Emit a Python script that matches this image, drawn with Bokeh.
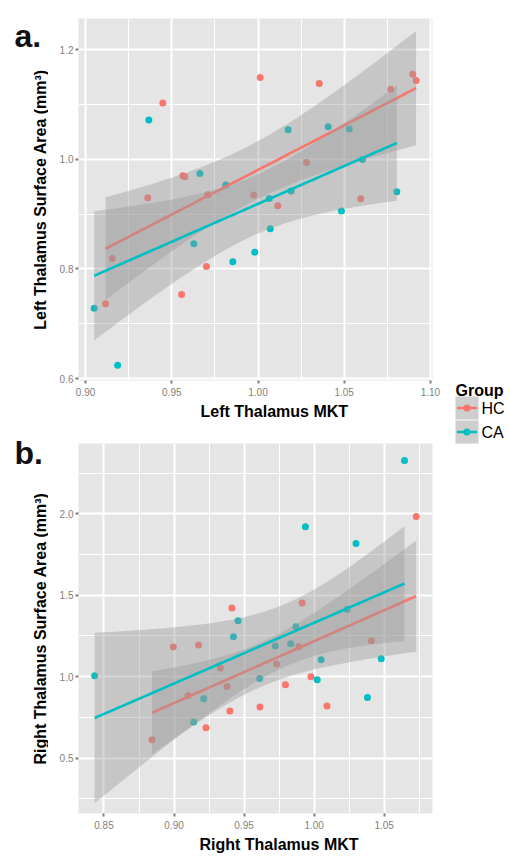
import numpy as np
from bokeh.plotting import figure
from bokeh.models import Range1d, FixedTicker, Title, NumeralTickFormatter
from bokeh.layouts import row, column
from bokeh.embed import file_html
from bokeh.resources import INLINE
from bokeh.core.properties import value

HC_COLOR = "#F8766D"
CA_COLOR = "#00BFC4"
FONT = "Liberation Sans"

groups = ["HC", "CA"]

# ---- Panel a: Left thalamus ----
left_hc_mkt = [0.9448, 1.0013, 0.9564, 0.9576, 0.9361, 0.9709, 0.9975, 1.0355, 1.0897,
               1.0917, 1.0770, 1.0281, 1.0596, 0.9155, 0.9701, 0.9116, 0.9557, 1.0115]
left_hc_area = [1.1026, 1.1489, 0.9699, 0.9680, 0.9297, 0.9352, 0.9346, 1.1379, 1.1549,
                1.1434, 1.1275, 0.9942, 0.9279, 0.8188, 0.8042, 0.7366, 0.7531, 0.9151]
left_ca_mkt = [0.9367, 0.9663, 0.9813, 1.0175, 1.0407, 1.0529, 1.0606, 1.0065, 1.0192,
               1.0805, 0.9628, 0.9854, 0.9981, 0.9050, 0.9186, 1.0071, 1.0484]
left_ca_area = [1.0716, 0.9741, 0.9531, 1.0539, 1.0594, 1.0552, 0.9996, 0.9284, 0.9419,
                0.9406, 0.8457, 0.8128, 0.8305, 0.7282, 0.6241, 0.8731, 0.9054]

# ---- Panel b: Right thalamus ----
right_hc_mkt = [0.9413, 1.0729, 0.9914, 1.0409, 0.8995, 0.9175, 0.9331, 0.9378, 0.9100,
                0.9228, 0.8843, 0.9399, 0.9613, 0.9891, 0.9732, 0.9977, 0.9795, 1.0092]
right_hc_area = [1.4221, 1.9834, 1.4529, 1.2211, 1.1824, 1.1947, 1.0533, 0.9402, 0.8849,
                 0.6863, 0.6125, 0.7890, 0.8142, 1.1842, 1.0779, 1.0000, 0.9506, 0.8197]
right_ca_mkt = [0.9457, 0.9424, 1.0645, 0.9938, 1.0299, 1.0236, 0.9870, 0.8433, 0.9611,
                0.9212, 0.9140, 0.9723, 0.9833, 1.0479, 1.0050, 1.0022, 1.0381]
right_ca_area = [1.3441, 1.2457, 2.3277, 1.9201, 1.8174, 1.4135, 1.3060, 1.0060, 0.9888,
                 0.8646, 0.7213, 1.1885, 1.2027, 1.1105, 1.1043, 0.9814, 0.8726]

left_x_ticks = [0.90, 0.95, 1.00, 1.05, 1.10]
left_x_minor = [0.925, 0.975, 1.025, 1.075]
left_y_ticks = [0.6, 0.8, 1.0, 1.2]
left_y_minor = [0.7, 0.9, 1.1]
right_x_ticks = [0.85, 0.90, 0.95, 1.00, 1.05]
right_x_minor = [0.875, 0.925, 0.975, 1.025, 1.075]
right_y_ticks = [0.5, 1.0, 1.5, 2.0]
right_y_minor = [0.25, 0.75, 1.25, 1.75, 2.25]

# t quantile (0.975) for residual degrees of freedom
T975 = {15: 2.1314, 16: 2.1199}

STRIP_W = 48      # left strip with panel letters and y titles
LEG_W = 59        # right strip with legend
COL_W = 509 - STRIP_W - LEG_W


def lm_band(x, y, n=80):
    x = np.asarray(x, float)
    y = np.asarray(y, float)
    slope, icpt = np.polyfit(x, y, 1)
    xs = np.linspace(x.min(), x.max(), n)
    fit = icpt + slope * xs
    dfree = len(x) - 2
    s = np.sqrt(np.sum((y - (icpt + slope * x)) ** 2) / dfree)
    sxx = np.sum((x - x.mean()) ** 2)
    se = s * np.sqrt(1.0 / len(x) + (xs - x.mean()) ** 2 / sxx)
    t = T975[dfree]
    return xs, fit, fit - t * se, fit + t * se


def make_panel(series, xr, yr, xt, xm, yt, ym, height, borders, xtitle, xtitle_offset, xfmt, yfmt):
    bl, br, bt, bb = borders
    p = figure(width=COL_W, height=height, x_range=Range1d(*xr), y_range=Range1d(*yr),
               output_backend="svg", toolbar_location=None, title=None,
               min_border_left=bl, min_border_right=br, min_border_top=bt, min_border_bottom=bb)
    p.background_fill_color = "#E5E5E5"
    p.border_fill_color = "white"
    p.outline_line_color = None
    p.xaxis.ticker = FixedTicker(ticks=xt, minor_ticks=xm)
    p.yaxis.ticker = FixedTicker(ticks=yt, minor_ticks=ym)
    p.xaxis.formatter = NumeralTickFormatter(format=xfmt)
    p.yaxis.formatter = NumeralTickFormatter(format=yfmt)
    p.grid.grid_line_color = "white"
    p.grid.grid_line_width = 2
    p.grid.minor_grid_line_color = "white"
    p.grid.minor_grid_line_width = 1
    for ax in p.axis:
        ax.axis_line_color = None
        ax.major_tick_line_color = "#7f7f7f"
        ax.major_tick_line_width = 2
        ax.major_tick_in = 0
        ax.major_tick_out = 3
        ax.minor_tick_line_color = None
        ax.major_label_text_font = FONT
        ax.major_label_text_font_size = "10px"
        ax.major_label_text_color = "#7f7f7f"
    p.xaxis.major_label_standoff = 3
    p.yaxis.major_label_standoff = 1

    for (x, y, c) in series:
        p.scatter(x, y, size=7, fill_color=c, line_color=None)
    for (x, y, c) in series:
        xs, fit, lo, hi = lm_band(x, y)
        p.varea(x=xs, y1=lo, y2=hi, fill_color="#999999", fill_alpha=0.4)
        p.line(xs, fit, line_color=c, line_width=2.6)

    p.add_layout(Title(text=xtitle, align="left", offset=xtitle_offset, standoff=4,
                       text_font=FONT, text_font_style="bold", text_font_size="16px",
                       text_color="black"), "below")
    return p


pa = make_panel([(left_hc_mkt, left_hc_area, HC_COLOR), (left_ca_mkt, left_ca_area, CA_COLOR)],
                (0.8959, 1.1012), (0.5964, 1.2566),
                left_x_ticks, left_x_minor, left_y_ticks, left_y_minor,
                425, (78 - STRIP_W, COL_W + STRIP_W - 432, 18, 45),
                "Left Thalamus MKT", 122, "0.00", "0.0")

pb = make_panel([(right_hc_mkt, right_hc_area, HC_COLOR), (right_ca_mkt, right_ca_area, CA_COLOR)],
                (0.8318, 1.0845), (0.1595, 2.432),
                right_x_ticks, right_x_minor, right_y_ticks, right_y_minor,
                432, (72 - STRIP_W, COL_W + STRIP_W - 433, 18, 44),
                "Right Thalamus MKT", 121, "0.00", "0.0")

# ---- Left strip: panel letters and y-axis titles (page-pixel coordinates) ----
ps = figure(width=STRIP_W, height=857, x_range=Range1d(0, STRIP_W), y_range=Range1d(857, 0),
            output_backend="svg", toolbar_location=None, title=None,
            x_axis_type=None, y_axis_type=None,
            min_border_left=0, min_border_right=0, min_border_top=0, min_border_bottom=0)
ps.outline_line_color = None
ps.background_fill_color = "white"
ps.border_fill_color = "white"
ps.text(x=[14, 14], y=[35, 452], text=["a.", "b."], text_font=value(FONT),
        text_font_style="bold", text_font_size="32px", text_baseline="alphabetic",
        text_color="#111111")
ps.text(x=[40, 40], y=[199, 628],
        text=["Left Thalamus Surface Area (mm³)", "Right Thalamus Surface Area (mm³)"],
        text_font=value(FONT), text_font_style="bold", text_font_size="16px",
        text_align="center", text_baseline="middle", angle=np.pi / 2, text_color="black")

# ---- Legend strip (page-pixel coordinates) ----
pl = figure(width=LEG_W, height=857, x_range=Range1d(450, 509), y_range=Range1d(857, 0),
            output_backend="svg", toolbar_location=None, title=None,
            x_axis_type=None, y_axis_type=None,
            min_border_left=0, min_border_right=0, min_border_top=0, min_border_bottom=0)
pl.outline_line_color = None
pl.background_fill_color = "white"
pl.border_fill_color = "white"
pl.text(x=[455], y=[390], text=["Group"], text_font=value(FONT), text_font_style="bold",
        text_font_size="16px", text_baseline="alphabetic", text_color="black")
key_tops = [396, 420]
key_colors = [HC_COLOR, CA_COLOR]
for g, top, c in zip(groups, key_tops, key_colors):
    pl.quad(left=[455], right=[478], top=[top], bottom=[top + 23],
            fill_color="#F2F2F2", line_color=None)
    pl.quad(left=[455], right=[478], top=[top], bottom=[top + 23],
            fill_color="#999999", fill_alpha=0.4, line_color=None)
    cy = top + 11.5
    pl.line([456.5, 476.5], [cy, cy], line_color=c, line_width=2.6)
    pl.scatter([466.5], [cy], size=7, fill_color=c, line_color=None)
    pl.text(x=[481], y=[cy], text=[g], text_font=value(FONT), text_font_size="16px",
            text_baseline="middle", text_color="black")

layout = row(ps, column(pa, pb), pl)

open("out.html", "w").write(file_html(layout, INLINE))
